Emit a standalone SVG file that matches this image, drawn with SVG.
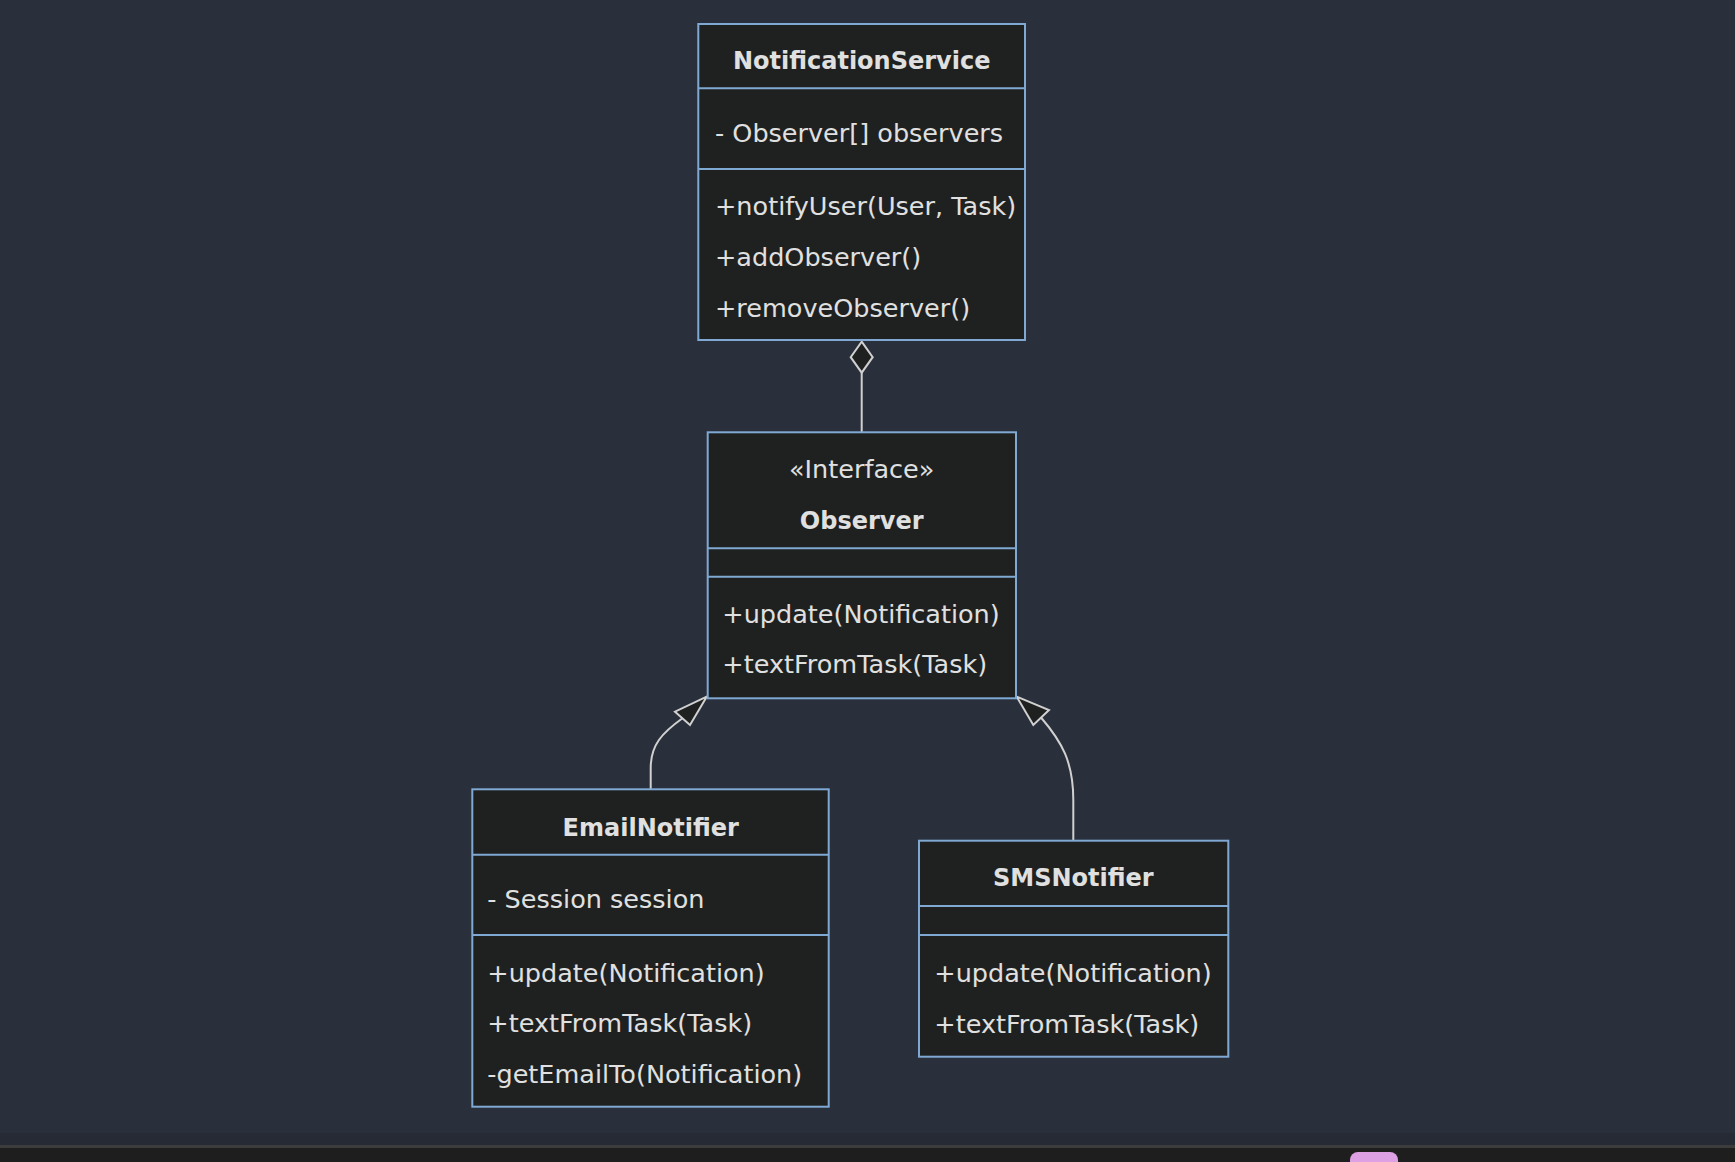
<svg xmlns="http://www.w3.org/2000/svg" width="1735" height="1162" viewBox="0 0 1735 1162">
<style>
.box{fill:#1f2020;stroke:#7fa9d3;stroke-width:2}
.div{stroke:#7fa9d3;stroke-width:2}
.t{font-family:"DejaVu Sans",sans-serif;font-size:25.5px;fill:#e0e0e0}
.title{font-family:"DejaVu Sans",sans-serif;font-size:24px;font-weight:bold;fill:#e0e0e0;text-anchor:middle}
.mid{text-anchor:middle}
.edge{fill:none;stroke:#d0d0d0;stroke-width:2}
.head{fill:#1f2020;stroke:#d0d0d0;stroke-width:2}
</style>
<rect x="0" y="0" width="1735" height="1162" fill="#2a2f3c"/>
<rect x="0" y="1133" width="1735" height="13" fill="#252a35"/>
<rect x="0" y="1145" width="1735" height="3" fill="#3c3c3c"/>
<rect x="0" y="1148" width="1735" height="14" fill="#1e1e1e"/>
<rect x="1350" y="1152" width="48" height="24" rx="8" fill="#dda0e3"/>

<g id="connectors">
<line class="edge" x1="861.7" y1="372.7" x2="861.7" y2="432"/>
<polygon class="head" points="861.7,341.7 872.7,357.2 861.7,372.7 850.7,357.2"/>
<path class="edge" d="M650.7,789 L650.7,768 C650.7,745 662,733 682.5,718.3"/>
<polygon class="head" points="706.7,696.7 675,711.7 690,725"/>
<path class="edge" d="M1073.3,840.7 L1073.3,800 C1073.3,762 1062,742 1041,717.5"/>
<polygon class="head" points="1016.7,696.7 1049,710 1033.3,725"/>
</g>

<g id="NotificationService">
<rect class="box" x="698.3" y="24" width="326.7" height="316"/>
<line class="div" x1="698.3" y1="88.3" x2="1025" y2="88.3"/>
<line class="div" x1="698.3" y1="169" x2="1025" y2="169"/>
<text class="title" x="861.7" y="69.3">NotificationService</text>
<text class="t" x="715" y="141.7">- Observer[] observers</text>
<text class="t" x="715" y="215">+notifyUser(User, Task)</text>
<text class="t" x="715" y="265.5">+addObserver()</text>
<text class="t" x="715" y="316.5">+removeObserver()</text>
</g>

<g id="Observer">
<rect class="box" x="707.7" y="432.3" width="308.3" height="266"/>
<line class="div" x1="707.7" y1="548.3" x2="1016" y2="548.3"/>
<line class="div" x1="707.7" y1="576.7" x2="1016" y2="576.7"/>
<text class="t mid" x="861.7" y="478.3">«Interface»</text>
<text class="title" x="861.7" y="529.3">Observer</text>
<text class="t" x="722.3" y="623.3">+update(Notification)</text>
<text class="t" x="722.3" y="673.3">+textFromTask(Task)</text>
</g>

<g id="EmailNotifier">
<rect class="box" x="472.3" y="789.3" width="356.4" height="317.4"/>
<line class="div" x1="472.3" y1="854.7" x2="828.7" y2="854.7"/>
<line class="div" x1="472.3" y1="935" x2="828.7" y2="935"/>
<text class="title" x="650.7" y="835.7">EmailNotifier</text>
<text class="t" x="487.3" y="908.3">- Session session</text>
<text class="t" x="487.3" y="982.3">+update(Notification)</text>
<text class="t" x="487.3" y="1032">+textFromTask(Task)</text>
<text class="t" x="487.3" y="1083.3">-getEmailTo(Notification)</text>
</g>

<g id="SMSNotifier">
<rect class="box" x="919" y="840.7" width="309.3" height="216"/>
<line class="div" x1="919" y1="906" x2="1228.3" y2="906"/>
<line class="div" x1="919" y1="935" x2="1228.3" y2="935"/>
<text class="title" x="1073.3" y="886">SMSNotifier</text>
<text class="t" x="934.3" y="981.7">+update(Notification)</text>
<text class="t" x="934.3" y="1032.7">+textFromTask(Task)</text>
</g>
</svg>
